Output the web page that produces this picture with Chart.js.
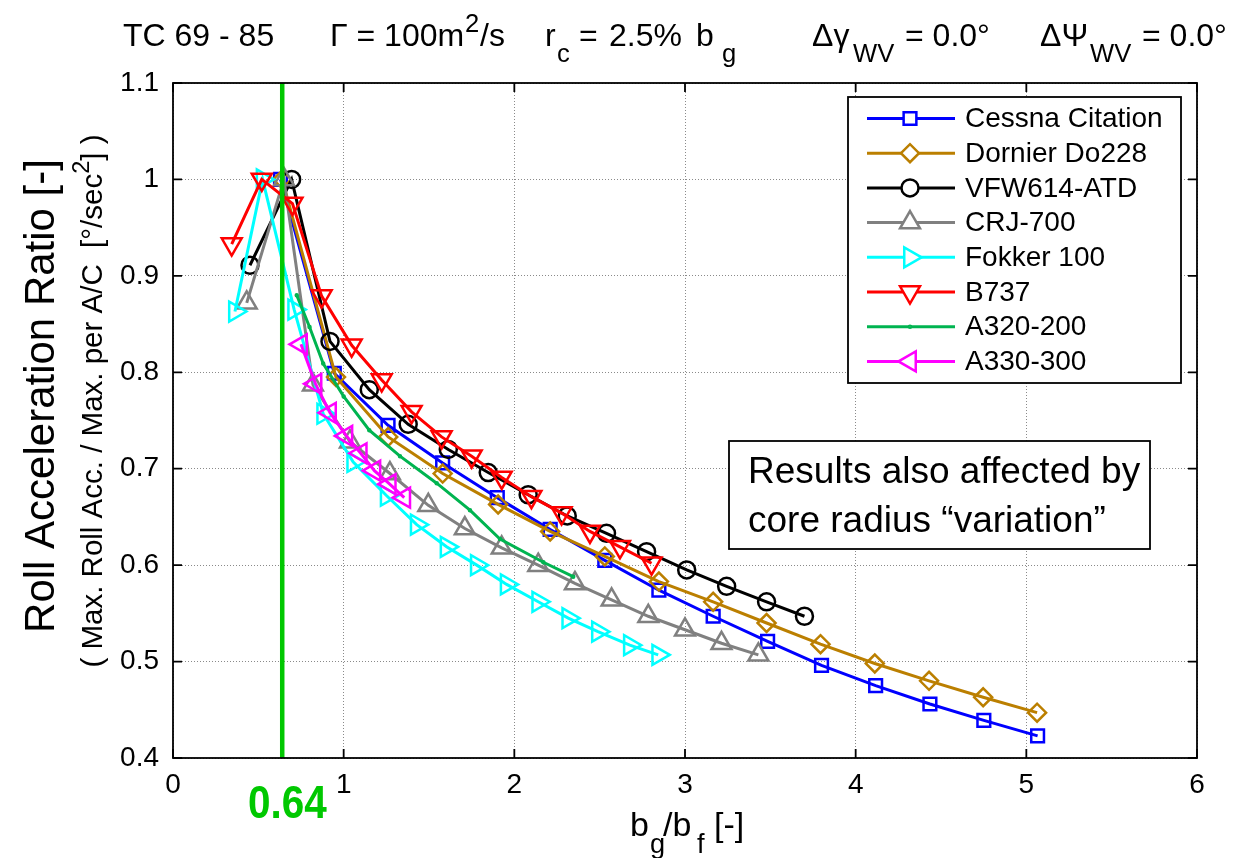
<!DOCTYPE html>
<html>
<head>
<meta charset="utf-8">
<script src="https://cdn.jsdelivr.net/npm/chart.js@4/dist/chart.umd.min.js"></script>
<style>
  body { margin: 0; background: #fff; }
  canvas { display: block; }
</style>
</head>
<body>
<canvas id="chart" width="1250" height="858"></canvas>
<script>
const FONT = '"Liberation Sans", Arial, sans-serif';

// values (x = bg/bf, y = roll acc. ratio)
const cessnaX = [0.63, 0.945, 1.26, 1.58, 1.90, 2.21, 2.53, 2.847, 3.165, 3.484, 3.80, 4.117, 4.435, 4.751, 5.066];
const cessnaY = [1.0, 0.799, 0.745, 0.706, 0.670, 0.637, 0.605, 0.574, 0.547, 0.521, 0.496, 0.475, 0.456, 0.439, 0.423];
const dornierX = [0.64, 0.955, 1.261, 1.58, 1.905, 2.21, 2.53, 2.847, 3.165, 3.478, 3.794, 4.112, 4.43, 4.747, 5.063];
const dornierY = [1.0, 0.795, 0.733, 0.695, 0.663, 0.635, 0.609, 0.583, 0.562, 0.540, 0.518, 0.498, 0.480, 0.463, 0.447];
const vfwX = [0.451, 0.695, 0.92, 1.15, 1.378, 1.613, 1.847, 2.081, 2.31, 2.54, 2.775, 3.01, 3.244, 3.478, 3.70];
const vfwY = [0.911, 1.0, 0.832, 0.782, 0.746, 0.720, 0.696, 0.673, 0.651, 0.633, 0.614, 0.595, 0.578, 0.562, 0.547];
const crjX = [0.432, 0.65, 0.82, 1.037, 1.271, 1.496, 1.71, 1.926, 2.14, 2.355, 2.57, 2.785, 3.0, 3.214, 3.43];
const crjY = [0.872, 1.0, 0.787, 0.728, 0.695, 0.662, 0.638, 0.618, 0.600, 0.581, 0.564, 0.547, 0.533, 0.519, 0.507];
const fokkerX = [0.363, 0.525, 0.71, 0.88, 1.056, 1.252, 1.428, 1.603, 1.78, 1.955, 2.14, 2.316, 2.49, 2.677, 2.843];
const fokkerY = [0.863, 1.0, 0.865, 0.757, 0.707, 0.672, 0.642, 0.619, 0.600, 0.580, 0.562, 0.545, 0.531, 0.517, 0.507];
const b737X = [0.344, 0.52, 0.70, 0.871, 1.047, 1.223, 1.398, 1.574, 1.75, 1.926, 2.1, 2.277, 2.443, 2.619, 2.804];
const b737Y = [0.933, 1.0, 0.975, 0.879, 0.828, 0.792, 0.759, 0.733, 0.713, 0.691, 0.671, 0.654, 0.635, 0.619, 0.602];
const a320X = [0.725, 0.80, 0.88, 1.0, 1.15, 1.33, 1.545, 1.74, 1.916, 2.17, 2.345];
const a320Y = [0.880, 0.847, 0.809, 0.775, 0.740, 0.713, 0.685, 0.657, 0.627, 0.603, 0.588];
const a330X = [0.75, 0.835, 0.92, 1.016, 1.10, 1.18, 1.27, 1.355];
const a330Y = [0.829, 0.788, 0.758, 0.734, 0.716, 0.698, 0.684, 0.670];

const markX = [0.64, 0.64];
const markY = [0.4, 1.1];

const xTickLabels = ['0', '1', '2', '3', '4', '5', '6'];
const yTickLabels = ['0.4', '0.5', '0.6', '0.7', '0.8', '0.9', '1', '1.1'];

const series = [
  { label: 'Cessna Citation', x: cessnaX, y: cessnaY, color: '#0000ff', style: 'rect', rot: 0, r: 9 },
  { label: 'Dornier Do228', x: dornierX, y: dornierY, color: '#bb7f00', style: 'rectRot', rot: 0, r: 9 },
  { label: 'VFW614-ATD', x: vfwX, y: vfwY, color: '#000000', style: 'circle', rot: 0, r: 8.5 },
  { label: 'CRJ-700', x: crjX, y: crjY, color: '#808080', style: 'triangle', rot: 0, r: 11.5 },
  { label: 'Fokker 100', x: fokkerX, y: fokkerY, color: '#00ffff', style: 'triangle', rot: 90, r: 11.5 },
  { label: 'B737', x: b737X, y: b737Y, color: '#ff0000', style: 'triangle', rot: 180, r: 11.5 },
  { label: 'A320-200', x: a320X, y: a320Y, color: '#00b450', style: 'circle', rot: 0, r: 1 },
  { label: 'A330-300', x: a330X, y: a330Y, color: '#ff00ff', style: 'triangle', rot: 270, r: 11.5 }
];

const pts = (xs, ys) => xs.map((x, i) => ({ x: x, y: ys[i] }));

let datasets = series.map((s, i) => ({
  label: s.label,
  data: pts(s.x, s.y),
  showLine: true,
  borderColor: s.color,
  borderWidth: 3,
  backgroundColor: 'rgba(0,0,0,0)',
  pointStyle: s.style,
  rotation: s.rot,
  pointRadius: s.r,
  pointBorderWidth: 2.5,
  pointBorderColor: s.color,
  pointBackgroundColor: 'rgba(0,0,0,0)',
  order: series.length - i
}));
datasets.push({
  label: 'bg/bf = 0.64',
  data: pts(markX, markY),
  showLine: true,
  borderColor: '#00c800',
  borderWidth: 4.5,
  pointRadius: 0,
  order: -1
});

// pieces of text placed one by one: [text, mode, x]; mode '' | 'sub' | 'sup'
function drawParts(ctx, y, parts, size) {
  ctx.textAlign = 'left';
  ctx.textBaseline = 'alphabetic';
  parts.forEach(p => {
    let s = p[1] ? size * 0.8 : size;
    let dy = p[1] === 'sub' ? size * 0.5 : p[1] === 'sup' ? -size * 0.45 : 0;
    ctx.font = s + 'px ' + FONT;
    ctx.fillText(p[0], p[2], y + dy);
  });
}
// running text centred on x (used for the rotated axis titles)
function drawRich(ctx, x, y, parts, size) {
  let w = 0;
  parts.forEach(p => {
    ctx.font = (p[1] ? size * 0.8 : size) + 'px ' + FONT;
    w += ctx.measureText(p[0]).width;
  });
  x -= w / 2;
  ctx.textAlign = 'left';
  ctx.textBaseline = 'alphabetic';
  parts.forEach(p => {
    let s = p[1] ? size * 0.8 : size;
    let dy = p[1] === 'sub' ? size * 0.45 : p[1] === 'sup' ? -size * 0.45 : 0;
    ctx.font = s + 'px ' + FONT;
    ctx.fillText(p[0], x, y + dy);
    x += ctx.measureText(p[0]).width;
  });
}

const extras = {
  id: 'extras',
  afterDraw(chart) {
    const ctx = chart.ctx;
    const a = chart.chartArea;
    const xs = chart.scales.x, ys = chart.scales.y;
    ctx.save();

    // axes box and inward ticks
    ctx.strokeStyle = '#000';
    ctx.lineWidth = 1.8;
    ctx.strokeRect(a.left, a.top, a.right - a.left, a.bottom - a.top);
    ctx.beginPath();
    xs.ticks.forEach(t => {
      let px = xs.getPixelForValue(t.value);
      ctx.moveTo(px, a.bottom); ctx.lineTo(px, a.bottom - 9);
      ctx.moveTo(px, a.top); ctx.lineTo(px, a.top + 9);
    });
    ys.ticks.forEach(t => {
      let py = ys.getPixelForValue(t.value);
      ctx.moveTo(a.left, py); ctx.lineTo(a.left + 9, py);
      ctx.moveTo(a.right, py); ctx.lineTo(a.right - 9, py);
    });
    ctx.stroke();

    // legend
    const lx = 848, ly = 97, lw = 333, lh = 286;
    ctx.fillStyle = '#fff';
    ctx.fillRect(lx, ly, lw, lh);
    ctx.lineWidth = 1.8;
    ctx.strokeStyle = '#000';
    ctx.strokeRect(lx, ly, lw, lh);
    series.forEach((s, i) => {
      let y = 118.5 + i * 34.7;
      ctx.strokeStyle = s.color;
      ctx.lineWidth = 3;
      ctx.beginPath();
      ctx.moveTo(867, y); ctx.lineTo(955, y);
      ctx.stroke();
      ctx.fillStyle = '#fff';
      ctx.lineWidth = 2.5;
      Chart.helpers.drawPoint(ctx, { pointStyle: s.style, rotation: s.rot, radius: s.r, borderWidth: 2.5 }, 910, y);
      ctx.fillStyle = '#000';
      ctx.font = '28px ' + FONT;
      ctx.textAlign = 'left';
      ctx.textBaseline = 'middle';
      ctx.fillText(s.label, 965, y + 1);
    });

    // annotation box
    ctx.fillStyle = '#fff';
    ctx.fillRect(729, 441, 421, 108);
    ctx.strokeStyle = '#000';
    ctx.lineWidth = 1.8;
    ctx.strokeRect(729, 441, 421, 108);
    ctx.fillStyle = '#000';
    ctx.font = '37px ' + FONT;
    ctx.textAlign = 'left';
    ctx.textBaseline = 'alphabetic';
    ctx.fillText('Results also affected by', 748, 483);
    ctx.fillText('core radius \u201Cvariation\u201D', 748, 532);

    // title
    ctx.fillStyle = '#000';
    drawParts(ctx, 46, [
      ['TC 69 - 85', '', 123],
      ['\u0393 = 100m', '', 330], ['2', 'sup', 465], ['/s', '', 480],
      ['r', '', 545], ['c', 'sub', 557], ['=', '', 579], ['2.5%', '', 609], ['b', '', 696], ['g', 'sub', 722],
      ['\u0394\u03B3', '', 812], ['WV', 'sub', 853], ['= 0.0\u00B0', '', 905],
      ['\u0394\u03A8', '', 1040], ['WV', 'sub', 1090], ['= 0.0\u00B0', '', 1142]
    ], 32);

    // x title
    drawParts(ctx, 836, [
      ['b', '', 630], ['g', 'sub', 650], ['/b', '', 663], ['f', 'sub', 697], ['[-]', '', 714]
    ], 34);

    // y titles
    ctx.save();
    ctx.translate(54, 396);
    ctx.rotate(-Math.PI / 2);
    drawRich(ctx, 0, 0, [['Roll Acceleration Ratio [-]', '']], 42);
    ctx.restore();
    ctx.save();
    ctx.translate(102, 401);
    ctx.rotate(-Math.PI / 2);
    drawRich(ctx, 0, 0, [['( Max. Roll Acc. / Max. per A/C  [\u00B0/sec', ''], ['2', 'sup'], ['] )', '']], 29.5);
    ctx.restore();

    // marked value under the axis
    ctx.save();
    ctx.fillStyle = '#00c800';
    ctx.font = 'bold 46px ' + FONT;
    ctx.textAlign = 'left';
    ctx.translate(248, 818);
    ctx.scale(0.88, 1);
    ctx.fillText('0.64', 0, 0);
    ctx.restore();

    ctx.restore();
  }
};

new Chart(document.getElementById('chart'), {
  type: 'scatter',
  data: { datasets: datasets },
  options: {
    responsive: false,
    devicePixelRatio: 1,
    animation: false,
    layout: { padding: { left: 0, top: 83, right: 53, bottom: 0 } },
    plugins: { legend: { display: false }, tooltip: { enabled: false } },
    scales: {
      x: {
        type: 'linear', min: 0, max: 6,
        ticks: {
          stepSize: 1, autoSkip: false, maxRotation: 0, padding: 10, color: '#000',
          font: { size: 28, family: FONT },
          callback: (v, i) => xTickLabels[i]
        },
        grid: { color: '#8a8a8a', lineWidth: 1, drawTicks: false },
        border: { display: false, dash: [1, 2] },
        afterFit: s => { s.height = 100; }
      },
      y: {
        type: 'linear', min: 0.4, max: 1.1,
        ticks: {
          stepSize: 0.1, autoSkip: false, padding: 14, color: '#000',
          font: { size: 28, family: FONT },
          callback: (v, i) => yTickLabels[i]
        },
        grid: { color: '#8a8a8a', lineWidth: 1, drawTicks: false },
        border: { display: false, dash: [1, 2] },
        afterFit: s => { s.width = 173; }
      }
    }
  },
  plugins: [extras]
});
</script>
</body>
</html>
